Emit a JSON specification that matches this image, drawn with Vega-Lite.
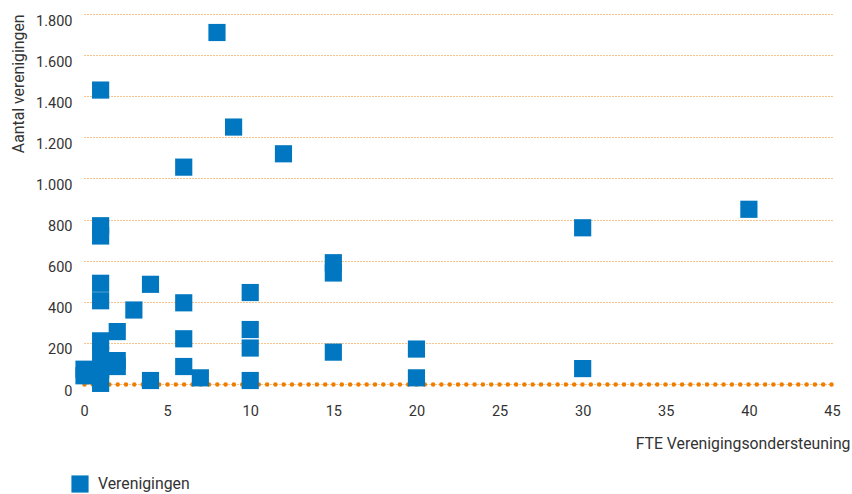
{
  "$schema": "https://vega.github.io/schema/vega-lite/v6.json",
  "width": 748,
  "height": 370,
  "autosize": "none",
  "padding": {"left": 84, "top": 14, "right": 20, "bottom": 110},
  "config": {
    "view": {"stroke": null},
    "font": "Roboto",
    "axis": {"labelFont": "Roboto", "titleFont": "Roboto", "labelColor": "#333333", "titleColor": "#333333", "labelFontSize": 14.5, "titleFontSize": 15.8, "titleFontWeight": "normal"},
    "legend": {"labelFont": "Roboto", "labelFontSize": 15.8, "labelColor": "#333333"}
  },
  "data": {
    "values": [
      {"fte": 8, "n": 1710, "s": "Verenigingen"},
      {"fte": 1, "n": 1430, "s": "Verenigingen"},
      {"fte": 9, "n": 1250, "s": "Verenigingen"},
      {"fte": 12, "n": 1120, "s": "Verenigingen"},
      {"fte": 6, "n": 1055, "s": "Verenigingen"},
      {"fte": 40, "n": 850, "s": "Verenigingen"},
      {"fte": 30, "n": 760, "s": "Verenigingen"},
      {"fte": 1, "n": 770, "s": "Verenigingen"},
      {"fte": 1, "n": 720, "s": "Verenigingen"},
      {"fte": 15, "n": 590, "s": "Verenigingen"},
      {"fte": 15, "n": 540, "s": "Verenigingen"},
      {"fte": 1, "n": 490, "s": "Verenigingen"},
      {"fte": 1, "n": 405, "s": "Verenigingen"},
      {"fte": 4, "n": 485, "s": "Verenigingen"},
      {"fte": 10, "n": 445, "s": "Verenigingen"},
      {"fte": 6, "n": 395, "s": "Verenigingen"},
      {"fte": 3, "n": 360, "s": "Verenigingen"},
      {"fte": 2, "n": 255, "s": "Verenigingen"},
      {"fte": 10, "n": 265, "s": "Verenigingen"},
      {"fte": 1, "n": 210, "s": "Verenigingen"},
      {"fte": 6, "n": 220, "s": "Verenigingen"},
      {"fte": 10, "n": 175, "s": "Verenigingen"},
      {"fte": 20, "n": 170, "s": "Verenigingen"},
      {"fte": 15, "n": 155, "s": "Verenigingen"},
      {"fte": 2, "n": 114, "s": "Verenigingen"},
      {"fte": 2, "n": 85, "s": "Verenigingen"},
      {"fte": 1, "n": 140, "s": "Verenigingen"},
      {"fte": 1, "n": 70, "s": "Verenigingen"},
      {"fte": 1, "n": 3, "s": "Verenigingen"},
      {"fte": 6, "n": 85, "s": "Verenigingen"},
      {"fte": 30, "n": 75, "s": "Verenigingen"},
      {"fte": 0, "n": 72, "s": "Verenigingen"},
      {"fte": 0, "n": 40, "s": "Verenigingen"},
      {"fte": 7, "n": 30, "s": "Verenigingen"},
      {"fte": 20, "n": 30, "s": "Verenigingen"},
      {"fte": 4, "n": 17, "s": "Verenigingen"},
      {"fte": 10, "n": 17, "s": "Verenigingen"}
    ]
  },
  "mark": {"type": "point", "shape": "square", "filled": true, "size": 295, "opacity": 1},
  "encoding": {
    "x": {
      "field": "fte", "type": "quantitative",
      "scale": {"domain": [0, 45], "nice": false, "zero": true, "padding": 0},
      "axis": {
        "values": [0, 5, 10, 15, 20, 25, 30, 35, 40, 45],
        "grid": false, "ticks": false, "labelFlush": false,
        "domainColor": "#ef7d00", "domainWidth": 4.5, "domainDash": [0, 8.3], "domainCap": "round",
        "labelPadding": 20,
        "title": "FTE Verenigingsondersteuning",
        "titleX": 766, "titleY": 59, "titleAlign": "right", "titleBaseline": "middle"
      }
    },
    "y": {
      "field": "n", "type": "quantitative",
      "scale": {"domain": [0, 1800], "nice": false, "padding": 0},
      "axis": {
        "values": [0, 200, 400, 600, 800, 1000, 1200, 1400, 1600, 1800],
        "labelExpr": "replace(format(datum.value, ','), ',', '.')",
        "domain": false, "ticks": false, "labelFlush": false,
        "gridColor": "#ef7d00", "gridDash": [1, 2], "gridWidth": 1, "gridOpacity": 0.9,
        "labelPadding": 12, "labelBaseline": "middle", "labelOffset": 7,
        "title": "Aantal verenigingen",
        "titleX": -66, "titleY": 0, "titleAlign": "right", "titleBaseline": "middle", "titleAngle": -90
      }
    },
    "color": {
      "field": "s", "type": "nominal",
      "scale": {"range": ["#0077c0"]},
      "legend": {
        "title": null, "orient": "none", "legendX": -13, "legendY": 461,
        "symbolType": "square", "symbolSize": 295, "symbolOpacity": 1, "symbolFillColor": "#0077c0", "symbolStrokeWidth": 0,
        "labelOffset": 9, "padding": 0
      }
    }
  }
}
